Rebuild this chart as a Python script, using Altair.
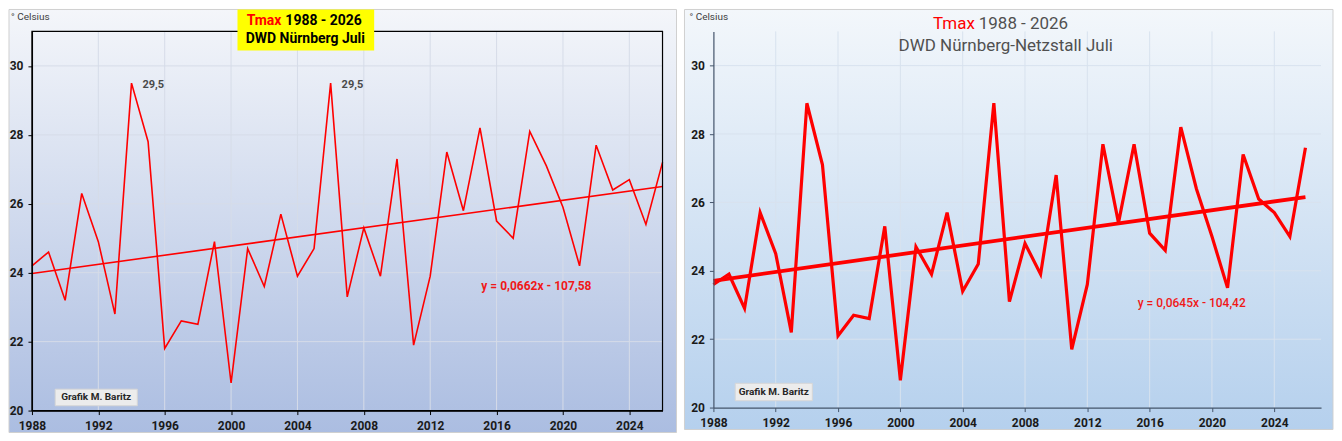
import altair as alt
import pandas as pd

years = list(range(1988, 2027))
tmax_nuernberg = [24.2, 24.6, 23.2, 26.3, 24.9, 22.8, 29.5, 27.8, 21.8, 22.6,
                  22.5, 24.9, 20.8, 24.7, 23.6, 25.7, 23.9, 24.7, 29.5, 23.3,
                  25.3, 23.9, 27.3, 21.9, 23.9, 27.5, 25.8, 28.2, 25.5, 25.0,
                  28.1, 27.1, 25.9, 24.2, 27.7, 26.4, 26.7, 25.4, 27.2]
tmax_netzstall = [23.6, 23.9, 22.9, 25.7, 24.5, 22.2, 28.9, 27.1, 22.1, 22.7,
                  22.6, 25.3, 20.8, 24.7, 23.9, 25.7, 23.4, 24.2, 28.9, 23.1,
                  24.8, 23.9, 26.8, 21.7, 23.6, 27.7, 25.4, 27.7, 25.1, 24.6,
                  28.2, 26.4, 25.0, 23.5, 27.4, 26.1, 25.7, 25.0, 27.6]
x_ticks = [1988, 1992, 1996, 2000, 2004, 2008, 2012, 2016, 2020, 2024]
grid_years = [1992, 1996, 2000, 2004, 2008, 2012, 2016, 2020, 2024]
y_ticks = [20, 22, 24, 26, 28, 30]
grid_y = [22, 24, 26, 28, 30]
eq_left = "y = 0,0662x - 107,58"
eq_right = "y = 0,0645x - 104,42"
credit = "Grafik M. Baritz"
unit = "° Celsius"

FONT = "Roboto"
one = pd.DataFrame({"k": [0]})


def panel(vals, W, H, xmax, style):
    df = pd.DataFrame({"year": years, "t": vals})
    xs = alt.Scale(domain=[1988, xmax], nice=False, zero=False)
    ys = alt.Scale(domain=[20, 31], nice=False, zero=False)
    axcol = style["axcol"]
    xax = alt.Axis(values=x_ticks, format="d", title=None, grid=False, tickSize=4,
                   labelPadding=6, labelFont=FONT, labelFontSize=12, labelFontWeight="bold",
                   labelColor="#1a1a1a", domainColor=axcol, tickColor=axcol, zindex=1,
                   labelOverlap=False, labelFlush=False, domainWidth=1.2)
    yax = alt.Axis(values=y_ticks, format="d", title=None, grid=False, tickSize=4,
                   labelPadding=5, labelFont=FONT, labelFontSize=12, labelFontWeight="bold",
                   labelColor="#1a1a1a", domainColor=axcol, tickColor=axcol, zindex=1,
                   labelOverlap=False, domainWidth=1.2)

    def X(f):
        return alt.X(f, type="quantitative", scale=xs, axis=xax)

    def Y(f):
        return alt.Y(f, type="quantitative", scale=ys, axis=yax)

    grad = {"gradient": "linear", "x1": 0, "y1": 0, "x2": 0, "y2": 1,
            "stops": [{"offset": 0, "color": style["g0"]},
                      {"offset": 1, "color": style["g1"]}]}
    L = style["left"]
    bg = alt.Chart(one).mark_rect(fill=grad, stroke="#d0d0d0", strokeWidth=1).encode(
        x=alt.value(-L), x2=alt.value(W + style["right"]),
        y=alt.value(-22), y2=alt.value(H + 22))
    vgrid = alt.Chart(pd.DataFrame({"gx": grid_years})).mark_rule(
        color=style["grid"], strokeWidth=1).encode(x=X("gx"))
    hgrid = alt.Chart(pd.DataFrame({"gy": grid_y})).mark_rule(
        color=style["grid"], strokeWidth=1).encode(y=Y("gy"))
    line = alt.Chart(df).mark_line(color="#ff0000", strokeWidth=style["lw"]).encode(
        x=X("year"), y=Y("t"))
    trend = alt.Chart(df).transform_regression(
        "year", "t", extent=[1988, 2026]).mark_line(
        color="#ff0000", strokeWidth=style["tw"]).encode(x=X("year"), y=Y("t"))
    eq = alt.Chart(one).mark_text(
        text=style["eq"], font=FONT, fontSize=12, fontWeight=style["eqw"],
        color="#f01818", align="center", baseline="middle").encode(
        x=alt.datum(style["eqx"]), y=alt.datum(style["eqy"]))
    cbox = alt.Chart(one).mark_rect(fill="#ececec", stroke="#d6d6d6", strokeWidth=1).encode(
        x=alt.datum(1989.4), x2=alt.datum(1994.35),
        y=alt.datum(style["cb0"]), y2=alt.datum(style["cb1"]))
    ctext = alt.Chart(one).mark_text(
        text=credit, font=FONT, fontSize=10, fontWeight="bold", color="#262626",
        align="center", baseline="middle").encode(
        x=alt.datum(1991.87), y=alt.datum((style["cb0"] + style["cb1"]) / 2))
    utext = alt.Chart(one).mark_text(
        text=unit, font=FONT, fontSize=10, color="#404040", align="left",
        baseline="middle").encode(x=alt.value(style["ux"]), y=alt.value(-14))
    layers = [bg, vgrid, hgrid, line, trend, eq, cbox, ctext, utext]
    return layers, df, X, Y


# ---- left panel ----
WL, HL = 632, 380
layersL, dfL, XL, YL = panel(tmax_nuernberg, WL, HL, 2026, dict(
    axcol="#000000", g0="#f4f6fa", g1="#abbde1", left=23, right=14, grid="#d6dce8",
    lw=1.6, tw=1.6, eq=eq_left, eqw="bold", eqx=2018.4, eqy=23.6,
    cb0=20.62, cb1=20.14, ux=-21))
peaks = alt.Chart(dfL).transform_filter("datum.t >= 29.5").transform_calculate(
    lbl="replace(format(datum.t, '.1f'), '.', ',')").mark_text(
    align="left", baseline="middle", dx=11, dy=2, font=FONT, fontSize=11,
    fontWeight="bold", color="#4a4a4a").encode(x=XL("year"), y=YL("t"), text="lbl:N")
border = alt.Chart(one).mark_rect(fillOpacity=0, stroke="#000000", strokeWidth=1.2).encode(
    x=alt.value(0), x2=alt.value(WL), y=alt.value(0), y2=alt.value(HL))
ybox = alt.Chart(one).mark_rect(fill="#ffff00").encode(
    x=alt.value(206), x2=alt.value(343), y=alt.value(-22), y2=alt.value(19))
t1a = alt.Chart(one).mark_text(text="Tmax", font=FONT, fontSize=14, fontWeight="bold",
                               color="#ff0000", align="right", baseline="middle").encode(
    x=alt.value(250), y=alt.value(-10))
t1b = alt.Chart(one).mark_text(text="1988 - 2026", font=FONT, fontSize=14, fontWeight="bold",
                               color="#000000", align="left", baseline="middle").encode(
    x=alt.value(254), y=alt.value(-10))
t2 = alt.Chart(one).mark_text(text="DWD Nürnberg Juli", font=FONT, fontSize=14,
                              fontWeight="bold", color="#000000", align="center",
                              baseline="middle").encode(x=alt.value(274), y=alt.value(8))
left = alt.layer(*layersL, peaks, border, ybox, t1a, t1b, t2).properties(width=WL, height=HL)

# ---- right panel ----
WR, HR = 609, 377
layersR, dfR, XR, YR = panel(tmax_netzstall, WR, HR, 2027, dict(
    axcol="#44546a", g0="#f3f7fb", g1="#b5d0ed", left=29, right=12, grid="#d8e2ee",
    lw=3.2, tw=3.8, eq=eq_right, eqw=500, eqx=2018.7, eqy=23.06,
    cb0=20.71, cb1=20.2, ux=-24))
r1a = alt.Chart(one).mark_text(text="Tmax", font=FONT, fontSize=17,
                               color="#ff0000", align="right", baseline="middle").encode(
    x=alt.value(262), y=alt.value(-7))
r1b = alt.Chart(one).mark_text(text="1988 - 2026", font=FONT, fontSize=17,
                               color="#505050", align="left", baseline="middle").encode(
    x=alt.value(266), y=alt.value(-7))
r2 = alt.Chart(one).mark_text(text="DWD Nürnberg-Netzstall Juli", font=FONT, fontSize=17,
                              color="#505050", align="center",
                              baseline="middle").encode(x=alt.value(293), y=alt.value(15))
right = alt.layer(*layersR, r1a, r1b, r2).properties(width=WR, height=HR)

chart = alt.hconcat(left, right, spacing=6).properties(
    padding=0, background="#ffffff").configure_view(strokeWidth=0)

chart.save("out.html", embed_options={"renderer": "svg", "actions": False})
